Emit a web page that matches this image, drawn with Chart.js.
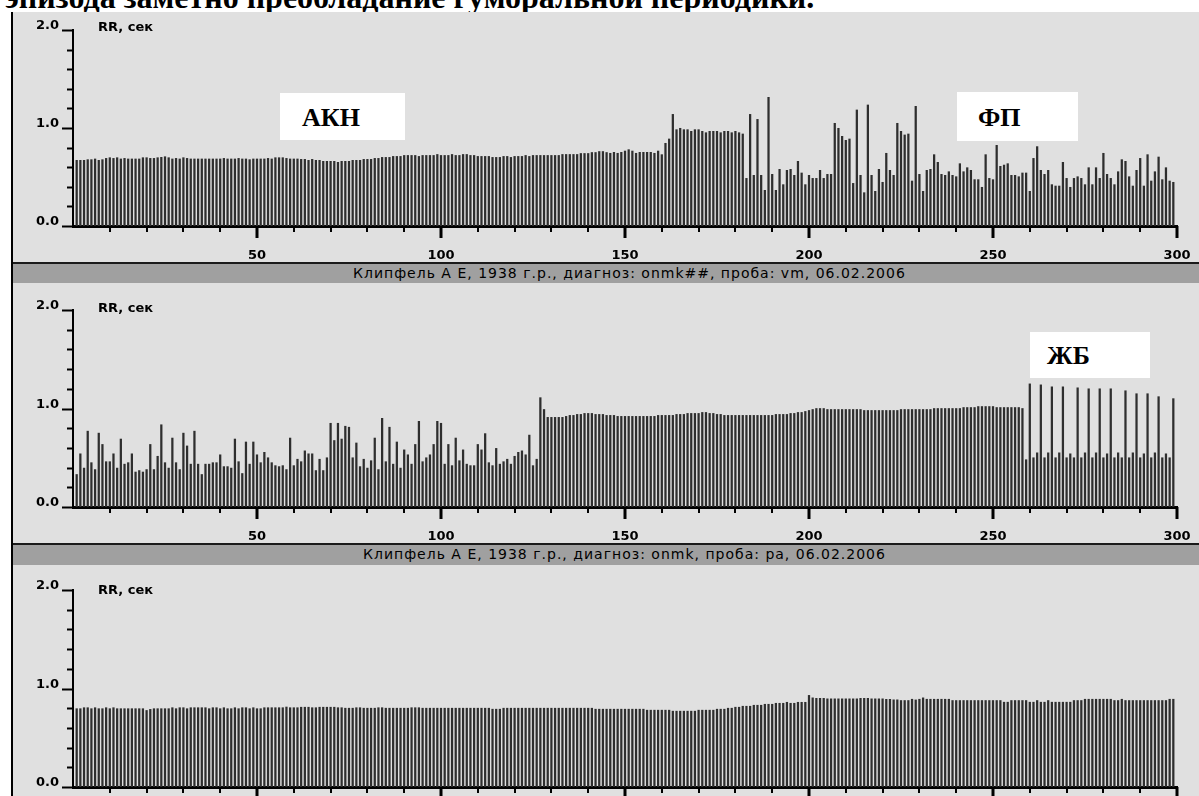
<!DOCTYPE html>
<html><head><meta charset="utf-8">
<script src="https://cdn.jsdelivr.net/npm/chart.js@4/dist/chart.umd.min.js"></script>
<style>
html,body{margin:0;padding:0;}
body{width:1199px;height:796px;background:#fff;position:relative;overflow:hidden;font-family:"DejaVu Sans",sans-serif;}
.title{position:absolute;left:5px;top:-19px;font-family:"Liberation Serif","Times New Roman",serif;font-weight:bold;font-size:32px;line-height:32px;white-space:nowrap;color:#000;}
.panel{position:absolute;left:13px;width:1186px;background:#e0e0e0;}
.lborder{position:absolute;left:11px;top:12px;width:2px;height:784px;background:#000;}
.hdr{position:absolute;left:13px;width:1186px;background:#a0a0a0;border-top:2px solid #1a1a1a;box-sizing:border-box;}
.hdr span{position:absolute;top:1px;font:14px "DejaVu Sans",sans-serif;letter-spacing:1px;color:#000;white-space:nowrap;}
.yname{position:absolute;font:bold 13px "DejaVu Sans",sans-serif;color:#000;white-space:nowrap;}
.note{position:absolute;background:#fff;font:bold 26px "Liberation Serif",serif;color:#000;box-sizing:border-box;}
canvas{position:absolute;left:13px;}
</style>
</head><body>
<div class="title">эпизода заметно преобладание гуморальной периодики.</div>
<div class="panel" style="top:12px;height:250px"></div>
<div class="panel" style="top:283px;height:260px"></div>
<div class="panel" style="top:565px;height:231px"></div>
<div class="lborder"></div>
<div class="hdr" style="top:262px;height:21px"><span id="h1" style="left:340px"></span></div>
<div class="hdr" style="top:543px;height:22px"><span id="h2" style="left:350px"></span></div>
<canvas id="c1" width="1186" height="250" style="top:12px"></canvas>
<canvas id="c2" width="1186" height="259" style="top:284px"></canvas>
<canvas id="c3" width="1186" height="230" style="top:566px"></canvas>
<div class="yname" style="left:98px;top:19px">RR, сек</div>
<div class="yname" style="left:98px;top:300px">RR, сек</div>
<div class="yname" style="left:98px;top:582px">RR, сек</div>
<div class="note" style="left:280px;top:93px;width:125px;height:47px;padding:10px 0 0 22px">АКН</div>
<div class="note" style="left:957px;top:92px;width:121px;height:49px;padding:11px 0 0 21px">ФП</div>
<div class="note" style="left:1030px;top:332px;width:120px;height:46px;padding:9px 0 0 17px">ЖБ</div>
<script>
const headerTexts = ['Клипфель А Е, 1938 г.р., диагноз: onmk##, проба: vm, 06.02.2006',
                     'Клипфель А Е, 1938 г.р., диагноз: onmk, проба: pa, 06.02.2006'];
const xTickLabels = ['50','100','150','200','250','300'];
const yTickLabels = ['0.0','1.0','2.0'];

// Panel 1 (top): RR intervals, s
const rrTop = [
0.67,0.67,0.67,0.677,0.677,0.684,0.67,0.677,0.69,0.697,
0.69,0.697,0.684,0.69,0.684,0.684,0.684,0.684,0.697,0.697,
0.69,0.69,0.697,0.701,0.707,0.697,0.684,0.69,0.684,0.697,
0.69,0.684,0.684,0.684,0.684,0.684,0.684,0.684,0.684,0.684,
0.69,0.684,0.684,0.684,0.69,0.684,0.684,0.677,0.684,0.684,
0.684,0.684,0.69,0.684,0.697,0.697,0.697,0.69,0.684,0.684,
0.684,0.68,0.68,0.67,0.68,0.67,0.67,0.66,0.66,0.66,
0.66,0.65,0.66,0.66,0.66,0.67,0.67,0.67,0.68,0.68,
0.68,0.69,0.69,0.70,0.70,0.70,0.71,0.71,0.71,0.72,
0.72,0.72,0.72,0.71,0.72,0.72,0.72,0.72,0.73,0.72,
0.72,0.72,0.73,0.72,0.72,0.73,0.73,0.72,0.72,0.71,
0.71,0.71,0.71,0.70,0.70,0.70,0.71,0.71,0.70,0.71,
0.71,0.71,0.72,0.71,0.72,0.72,0.72,0.72,0.72,0.72,
0.72,0.72,0.73,0.73,0.73,0.73,0.73,0.74,0.74,0.74,
0.75,0.75,0.76,0.76,0.75,
0.742,0.752,0.742,0.752,0.765,0.779,0.765,0.742,0.752,0.752,
0.752,0.752,0.742,0.765,0.728,0.844,0.888,1.139,0.983,0.997,
0.983,0.983,0.966,0.983,0.983,0.966,0.952,0.966,0.966,0.966,
0.952,0.966,0.966,0.952,0.966,0.952,0.939,0.486,1.139,0.517,
1.088,0.517,0.364,1.313,0.527,0.364,0.578,0.422,0.568,0.578,
0.517,0.66,0.541,0.422,0.517,0.486,0.486,0.568,0.486,0.527,
0.527,1.048,0.997,0.915,0.874,0.888,0.435,1.184,0.517,0.340,
1.235,0.517,0.354,0.578,0.446,0.742,0.568,0.517,1.048,
0.966,0.929,0.939,0.459,1.221,0.527,0.354,0.568,0.578,0.728,
0.650,0.527,0.517,0.554,0.517,0.503,0.636,0.554,0.595,0.568,
0.473,0.473,0.395,0.728,0.486,0.473,0.823,0.609,0.622,0.636,
0.517,0.517,0.503,0.541,0.541,0.354,0.690,0.810,0.568,0.527,
0.568,0.422,0.408,0.408,0.650,0.486,0.395,0.486,0.503,0.486,
0.422,0.595,0.422,0.595,0.486,0.742,0.527,0.486,0.422,0.554,
0.677,0.660,0.503,0.408,0.568,0.690,0.408,0.728,0.459,0.554,
0.704,0.473,0.595,0.459,0.446
];

// Panel 2 (middle, проба vm)
const rrVm = [
0.33,0.54,0.395,0.77,0.45,0.38,0.75,0.635,0.46,0.46,
0.54,0.395,0.69,0.435,0.45,0.54,0.355,0.37,0.355,0.38,
0.635,0.38,0.515,0.835,0.45,0.395,0.70,0.45,0.38,0.75,
0.62,0.435,0.77,0.435,0.33,0.435,0.435,0.45,0.45,0.53,
0.41,0.41,0.395,0.69,0.46,0.34,0.66,0.435,0.66,0.53,
0.45,0.555,0.50,0.45,0.42,0.41,0.42,0.38,0.70,0.42,
0.485,0.46,0.57,0.54,0.54,0.37,
0.485,0.37,0.50,0.85,0.675,0.85,0.69,0.82,0.81,0.50,
0.65,0.41,0.485,0.395,0.47,0.70,0.38,0.90,0.46,0.81,
0.435,0.66,0.395,0.58,0.53,0.435,0.635,0.87,0.46,0.50,
0.53,0.635,0.87,0.85,0.435,0.635,0.42,0.70,0.47,0.58,
0.435,0.42,0.42,0.635,0.58,0.745,0.45,0.42,0.595,0.435,
0.46,0.485,0.435,0.515,0.555,0.57,0.53,0.73,0.42,0.485,
1.11,0.99,0.91,0.91,0.91,0.91,0.91,
0.92,0.93,0.93,0.94,0.94,0.95,0.95,
0.95,0.94,0.94,0.94,0.93,0.93,0.93,0.92,0.92,0.92,
0.92,0.92,0.92,0.92,0.92,0.92,0.92,0.92,0.93,0.93,
0.93,0.93,0.93,0.94,0.94,0.94,0.95,0.95,0.95,0.95,
0.96,0.96,0.95,0.95,0.94,0.94,0.93,0.93,0.93,0.93,
0.93,0.93,0.93,0.93,0.93,0.93,0.93,0.93,0.93,0.93,
0.94,0.94,0.94,0.94,0.95,0.95,0.96,0.96,0.97,0.98,
0.99,1.00,1.00,1.00,0.99,0.99,0.99,0.99,0.99,0.99,
0.99,0.99,0.99,0.99,0.98,0.98,0.98,0.98,0.98,0.98,
0.98,0.98,0.98,0.98,0.99,0.99,0.99,0.99,0.99,0.99,
0.99,0.99,0.99,1.00,1.00,1.00,1.00,1.00,1.00,1.00,
1.00,1.01,1.01,1.01,1.01,1.02,1.02,1.02,1.02,1.02,
1.01,1.01,1.01,1.01,1.01,1.01,1.01,1.00,
0.48,1.25,0.50,0.55,1.24,0.50,0.55,1.22,0.50,0.55,
1.22,0.50,0.54,0.50,1.21,0.50,0.55,1.20,0.50,0.55,
1.20,0.50,0.54,1.20,0.50,0.55,0.50,1.18,0.50,0.55,
1.15,0.50,0.54,1.15,0.50,0.55,1.12,0.50,0.54,0.50,1.10
];

// Panel 3 (bottom, проба pa)
const rrPa = [
0.795,0.795,0.805,0.805,0.795,0.805,0.795,0.795,0.805,0.795,
0.805,0.795,0.795,0.795,0.795,0.795,0.795,0.795,0.795,0.777,
0.788,0.795,0.795,0.795,0.795,0.795,0.805,0.795,0.805,0.805,
0.795,0.805,0.805,0.805,0.805,0.805,0.795,0.805,0.805,0.795,
0.805,0.795,0.795,0.805,0.795,0.805,0.805,0.795,0.805,0.795,
0.795,0.805,0.805,0.805,0.805,0.805,0.805,0.812,0.805,0.805,
0.805,0.81,0.81,0.81,0.805,0.805,0.81,0.81,0.81,0.81,
0.81,0.805,0.805,0.80,0.80,0.80,0.805,0.805,0.80,0.80,
0.80,0.80,0.805,0.805,0.80,0.80,0.80,0.80,0.80,0.80,
0.80,0.805,0.805,0.805,0.80,0.80,0.80,0.80,0.80,0.80,
0.80,0.80,0.80,0.80,0.80,0.80,0.80,0.80,0.80,0.80,
0.80,0.80,0.80,0.79,0.79,0.79,0.80,0.80,0.80,0.80,
0.80,0.80,0.80,0.80,0.80,0.80,0.80,0.80,0.80,0.80,
0.80,0.80,0.80,0.80,0.80,0.80,0.80,0.80,0.80,0.80,
0.80,0.79,0.79,0.79,0.79,0.79,0.79,0.79,0.79,0.79,
0.79,0.79,0.79,0.79,0.79,0.78,0.78,0.78,0.78,0.78,
0.78,0.78,0.77,0.77,0.77,0.77,0.77,0.77,0.77,0.78,
0.78,0.78,0.78,0.78,0.79,0.79,0.79,0.80,0.80,0.81,
0.81,0.82,0.82,0.82,0.83,0.83,0.83,0.84,0.84,0.84,
0.85,0.85,0.85,0.86,0.85,0.85,0.86,0.86,0.86,0.93,
0.905,0.90,0.90,0.90,0.895,0.895,0.895,0.895,0.895,0.895,
0.895,0.895,0.895,0.90,0.90,0.90,0.895,0.895,0.895,0.895,
0.89,0.89,0.885,0.885,
0.878,0.878,0.878,0.891,0.884,0.891,0.905,0.891,0.891,0.891,
0.891,0.891,0.891,0.891,0.878,0.878,0.878,0.878,0.878,0.878,
0.878,0.878,0.878,0.878,0.878,0.878,0.878,0.878,0.861,0.861,
0.878,0.878,0.878,0.878,0.878,0.861,0.861,0.878,0.861,0.861,
0.878,0.861,0.861,0.861,0.861,0.861,0.861,0.878,0.878,0.878,
0.891,0.891,0.891,0.891,0.891,0.891,0.891,0.891,0.878,0.878,
0.891,0.878,0.878,0.878,0.878,0.878,0.878,0.878,0.878,0.878,
0.878,0.878,0.878,0.891,0.891
];

document.getElementById('h1').textContent = headerTexts[0];
document.getElementById('h2').textContent = headerTexts[1];

const tickPlugin = {
  id: 'ecgTicks',
  afterDraw(chart) {
    const ctx = chart.ctx, xs = chart.scales.x, ys = chart.scales.y;
    ctx.save();
    ctx.strokeStyle = '#000';
    ctx.lineCap = 'butt';
    const left = chart.chartArea.left, bottom = chart.chartArea.bottom;
    for (let i = 0; i <= 10; i++) {
      const v = i * 0.2, y = Math.round(ys.getPixelForValue(v)) + 0.5;
      const major = (i % 5 === 0);
      ctx.lineWidth = 2;
      ctx.beginPath();
      ctx.moveTo(left - (major ? 11 : 6), y);
      ctx.lineTo(left, y);
      ctx.stroke();
    }
    for (let v = 10; v <= 300; v += 10) {
      const x = Math.round(xs.getPixelForValue(v));
      const major = (v % 50 === 0);
      ctx.lineWidth = major ? 3 : 2;
      ctx.beginPath();
      ctx.moveTo(x, bottom);
      ctx.lineTo(x, bottom + (major ? 12 : 6));
      ctx.stroke();
    }
    ctx.restore();
  }
};

function makeChart(id, values, padTop, xHeight) {
  new Chart(document.getElementById(id), {
    type: 'bar',
    data: { datasets: [{
      data: values.map((v, i) => ({ x: i + 1, y: v })),
      backgroundColor: '#2e2e2e', borderWidth: 0, barThickness: 1.6, grouped: false
    }]},
    options: {
      responsive: false, animation: false,
      layout: { padding: { top: padTop, right: 22, left: 0, bottom: 0 } },
      plugins: { legend: { display: false }, tooltip: { enabled: false } },
      scales: {
        x: {
          type: 'linear', min: 0, max: 300, offset: false,
          grid: { display: false, drawTicks: false },
          border: { display: true, color: '#000', width: 3 },
          ticks: {
            stepSize: 10, autoSkip: false, maxRotation: 0, padding: 22, color: '#000',
            font: { family: 'DejaVu Sans', size: 13, weight: 'bold' },
            callback: (v) => xTickLabels.includes(String(v)) ? String(v) : ''
          },
          afterFit: (s) => { s.height = xHeight; s.paddingLeft = 0; s.paddingRight = 0; }
        },
        y: {
          min: 0, max: 2,
          grid: { display: false, drawTicks: false },
          border: { display: true, color: '#000', width: 2 },
          ticks: {
            stepSize: 0.2, padding: 14, labelOffset: -4, color: '#000',
            font: { family: 'DejaVu Sans', size: 13, weight: 'bold' },
            callback: (v) => { const l = yTickLabels.find(t => Math.abs(parseFloat(t) - v) < 1e-6); return l || ''; }
          },
          afterFit: (s) => { s.width = 60; s.paddingTop = 0; s.paddingBottom = 0; }
        }
      }
    },
    plugins: [tickPlugin]
  });
}
makeChart('c1', rrTop, 18, 36);
makeChart('c2', rrVm, 26, 36);
makeChart('c3', rrPa, 24, 9);
</script>
</body></html>
